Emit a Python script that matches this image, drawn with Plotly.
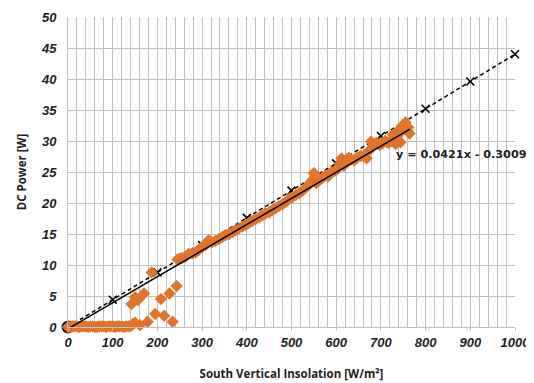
import plotly.graph_objects as go

# Reference (expected) power line with X markers
ref_x = [0, 100, 200, 300, 400, 500, 600, 700, 800, 900, 1000]
ref_y = [0, 4.4, 8.8, 13.2, 17.6, 22.0, 26.4, 30.8, 35.2, 39.6, 44.0]

# Measured data (orange diamonds)
low_x = [0, 5, 10, 15, 20, 25, 30, 35, 40, 45, 50, 55, 60, 65, 70, 75, 80, 85, 90, 95,
         100, 105, 110, 115, 120, 125, 130, 135, 140]
low_y = [0.0, 0.0, 0.1, 0.1, 0.1, 0.0, 0.1, 0.1, 0.1, 0.0, 0.1, 0.1, 0.0, 0.0, 0.1, 0.1, 0.1, 0.0,
         0.1, 0.1, 0.1, 0.0, 0.1, 0.1, 0.1, 0.0, 0.1, 0.1, 0.1]
mid_x = [142, 150, 157, 170, 187, 208, 227, 243, 195, 215, 234, 178, 150, 161, 145]
mid_y = [3.7, 4.8, 4.4, 5.4, 8.8, 4.5, 5.4, 6.6, 2.1, 1.8, 0.85, 0.85, 0.7, 0.3, 0.5]
band_x = [245, 250, 255, 262, 270, 278, 285, 292, 300, 308, 315, 322, 330, 338, 345, 352,
          360, 368, 375, 382, 390, 398, 405, 412, 420, 428, 435, 442, 450, 458, 465, 472,
          480, 488, 495, 502, 510, 518, 525, 532, 540, 545, 550, 555, 560, 568, 575, 582,
          590, 597, 603, 608, 612, 617, 622, 628, 633, 640, 647, 655, 662, 668, 673, 678,
          683, 690, 697, 703, 710, 716, 722, 727, 732, 737, 741, 745, 749, 753, 757, 760,
          764, 738, 744, 750, 755, 761, 733, 742]
band_y = [10.9, 11.0, 11.1, 11.3, 11.8, 11.9, 12.0, 12.4, 12.9, 13.2, 14.0, 13.7, 13.9, 14.2,
          14.5, 14.8, 15.0, 15.3, 15.6, 15.9, 16.2, 16.5, 16.8, 17.1, 17.4, 17.7, 18.0, 18.3,
          18.5, 18.9, 19.2, 19.5, 19.8, 20.2, 20.7, 20.9, 21.3, 21.6, 22.0, 22.5, 23.0, 23.6,
          24.8, 23.2, 23.5, 24.0, 24.4, 24.3, 25.0, 25.2, 25.5, 26.3, 27.2, 26.0, 26.6, 27.3,
          27.0, 26.9, 27.3, 27.6, 27.5, 27.2, 28.4, 29.9, 29.3, 29.7, 29.4, 29.6, 30.0, 29.7,
          29.9, 31.0, 30.4, 30.8, 31.2, 31.8, 32.4, 32.6, 32.0, 31.6, 31.2, 30.0, 29.8, 32.6,
          33.0, 32.2, 29.5, 31.9]

meas_x = low_x + mid_x + band_x
meas_y = low_y + mid_y + band_y

# Night-time points clustered at the origin (dark)
night_x = [0]
night_y = [0]

# Linear trendline of measured data
slope, intercept = 0.0421, -0.3009
trend_x = [0, 765]
trend_y = [slope * v + intercept for v in trend_x]

x_ticks = [0, 100, 200, 300, 400, 500, 600, 700, 800, 900, 1000]
y_ticks = [0, 5, 10, 15, 20, 25, 30, 35, 40, 45, 50]

orange = "#E0742A"
grid = "#BFBFBF"

fig = go.Figure()
fig.add_trace(go.Scatter(x=night_x, y=night_y, mode="markers",
                         marker=dict(symbol="circle", size=13, color="#151515"),
                         cliponaxis=False, showlegend=False))
fig.add_trace(go.Scatter(x=ref_x, y=ref_y, mode="lines+markers",
                         line=dict(color="black", width=1.5, dash="4px,3px"),
                         marker=dict(symbol="x-thin", size=8, line=dict(color="black", width=1.6)),
                         cliponaxis=False, showlegend=False))
fig.add_trace(go.Scatter(x=meas_x, y=meas_y, mode="markers",
                         marker=dict(symbol="diamond", size=9.5, color=orange),
                         cliponaxis=False, showlegend=False))
fig.add_trace(go.Scatter(x=trend_x, y=trend_y, mode="lines",
                         line=dict(color="black", width=1.5),
                         cliponaxis=False, showlegend=False))

tickfont = dict(family="Liberation Sans", size=13, color="#222222", weight="bold", style="italic")
titlefont = dict(family="Open Sans", size=11.5, color="#222222", weight="bold")

fig.update_layout(
    width=526, height=375,
    margin=dict(l=60, r=19, t=9, b=56),
    paper_bgcolor="white", plot_bgcolor="white",
    xaxis=dict(range=[0, 1000], tickvals=x_ticks, ticktext=[str(v) for v in x_ticks],
               showgrid=True, gridcolor=grid, gridwidth=1,
               minor=dict(dtick=20, showgrid=True, gridcolor=grid, gridwidth=1),
               ticks="outside", ticklen=3, tickcolor=grid,
               showline=True, linecolor=grid, zeroline=False, automargin=False,
               tickfont=tickfont,
               title=dict(text="South Vertical Insolation [W/m²]", font=titlefont, standoff=21)),
    yaxis=dict(range=[0, 50], tickvals=y_ticks, ticktext=[str(v) for v in y_ticks],
               showgrid=True, gridcolor=grid, gridwidth=1,
               showline=True, linecolor=grid, zeroline=False, automargin=False,
               ticks="", ticklabelstandoff=8,
               tickfont=tickfont,
               title=dict(text="DC Power [W]", font=titlefont, standoff=11)),
)

fig.add_annotation(x=729, y=27.9, xref="x", yref="y", text="y = 0.0421x - 0.3009",
                   showarrow=False, xanchor="left", yanchor="middle",
                   font=dict(family="DejaVu Sans", size=11.2, color="#222222", weight="bold"))

fig.write_html("out.html")
